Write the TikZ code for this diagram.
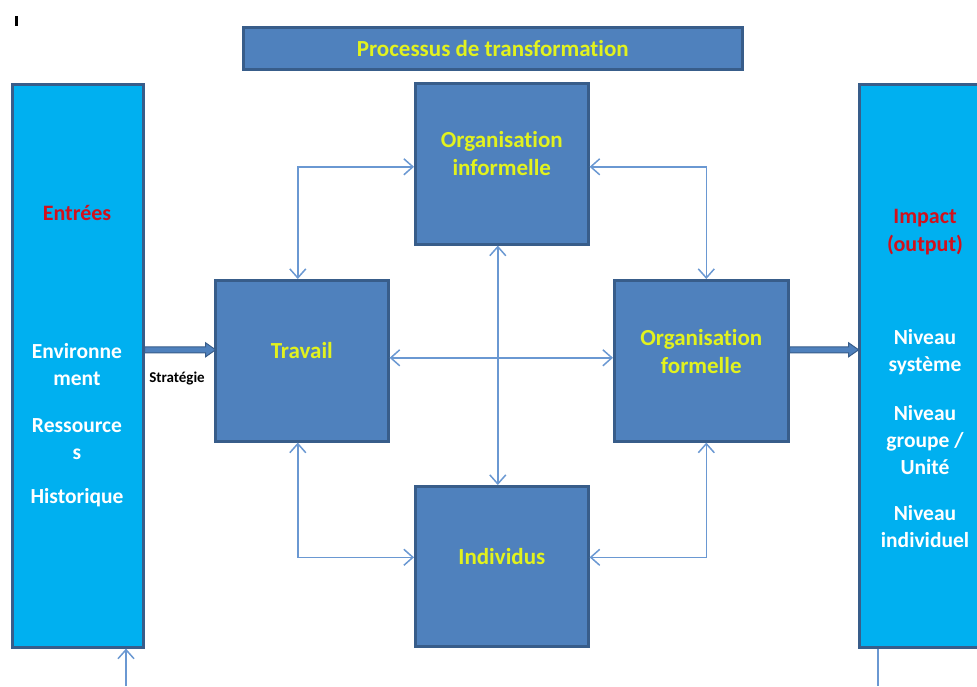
\documentclass[tikz,border=0pt]{standalone}
\usepackage{fontspec}
\setmainfont{Carlito}[Ligatures={CommonOff}]
\usetikzlibrary{arrows.meta}
\definecolor{sidefill}{HTML}{00B0F0}
\definecolor{boxfill}{HTML}{4F81BD}
\definecolor{boxline}{HTML}{385D8A}
\definecolor{linkblue}{HTML}{6A98D2}
\definecolor{labelyellow}{HTML}{E2F21E}
\definecolor{labelred}{HTML}{D2101C}
\tikzset{
  block/.style={draw=boxline, line width=2.6pt, fill=boxfill, inner sep=0pt, anchor=north west},
  sidebar/.style={draw=boxline, line width=2.6pt, fill=sidefill, inner sep=0pt, anchor=north west},
  boxtext/.style={text=labelyellow, font=\bfseries\fontsize{23}{28}\selectfont, align=center},
  sidetext/.style={text=white, font=\bfseries\fontsize{21.5}{27}\selectfont, align=center},
  headtext/.style={text=labelred, font=\bfseries\fontsize{22}{28}\selectfont, align=center},
  link/.style={draw=linkblue, line width=1.5pt, {Straight Barb[length=9pt,width=16pt]}-{Straight Barb[length=9pt,width=16pt]}},
  thinline/.style={draw=linkblue, line width=1.5pt},
  bigarrow/.style={draw=boxline, line width=1pt, fill=boxfill},
}
\begin{document}
\begin{tikzpicture}[x=1pt, y=-1pt]
  \useasboundingbox (0,0) rectangle (977,686);
  \clip (0,0) rectangle (977,686);

  % stray text cursor mark
  \fill[black] (15,16) rectangle (18,26);

  % title bar
  \node[block, minimum width=499pt, minimum height=42pt] (title) at (242,26) {};
  \node[boxtext] at (title.center) {Processus de transformation};

  % input and output columns
  \node[sidebar, minimum width=131pt, minimum height=563pt] (inputs) at (11,83) {};
  \node[sidebar, minimum width=160pt, minimum height=563pt] (outputs) at (858,83) {};

  \node[headtext] (inhead) at (77,213) {Entrées};
  \node[sidetext] (env) at (77,365) {Environne\\ment};
  \node[sidetext] (res) at (77,439) {Ressource\\s};
  \node[sidetext] (hist) at (77,498) {Historique};

  \node[headtext] (outhead) at (925,232) {Impact\\(output)};
  \node[sidetext] (sys) at (925,352) {Niveau\\système};
  \node[sidetext] (grp) at (925,440) {Niveau\\groupe /\\Unité};
  \node[sidetext] (ind) at (925,527) {Niveau\\individuel};

  % central components
  \node[block, minimum width=173pt, minimum height=161pt] (orginf) at (414,82) {};
  \node[boxtext] at ([yshift=10pt]orginf.center) {Organisation\\informelle};
  \node[block, minimum width=173pt, minimum height=161pt] (travail) at (214,279) {};
  \node[boxtext] at ([yshift=10pt]travail.center) {Travail};
  \node[block, minimum width=174pt, minimum height=161pt] (orgform) at (613,279) {};
  \node[boxtext] at ([yshift=9pt]orgform.center) {Organisation\\formelle};
  \node[block, minimum width=173pt, minimum height=160pt] (indiv) at (414,485) {};
  \node[boxtext] at ([yshift=10pt]indiv.center) {Individus};

  % links between components
  \draw[link] ([xshift=-4pt]travail.north) |- ([yshift=-3pt]orginf.west);
  \draw[link] ([yshift=-3pt]orginf.east) -| ([xshift=5pt]orgform.north);
  \draw[link] ([xshift=-4pt]travail.south) |- ([yshift=9pt]indiv.west);
  \draw[link] ([xshift=5pt]orgform.south) |- ([yshift=9pt]indiv.east);
  \draw[link] ([xshift=-4pt]orginf.south) -- ([xshift=-4pt]indiv.north);
  \draw[link] ([yshift=3pt]travail.east) -- ([yshift=3pt]orgform.west);

  % broad arrows into and out of the transformation
  \coordinate (a1) at ([yshift=16pt]inputs.east);
  \coordinate (a2) at ([yshift=11pt]orgform.east);
  \draw[bigarrow] ([yshift=3pt]a1) -- ++(61,0) -- ++(0,-4) -- ++(10,7) -- ++(-10,7) -- ++(0,-4) -- ++(-61,0) -- cycle;
  \draw[bigarrow] ([yshift=3pt]a2) -- ++(59,0) -- ++(0,-4) -- ++(10,7) -- ++(-10,7) -- ++(0,-4) -- ++(-59,0) -- cycle;
  \node[font=\bfseries\fontsize{15}{17}\selectfont, text=black] (strat) at (177,379) {Stratégie};

  % feeds at the bottom
  \coordinate (feedin) at (126,686);
  \coordinate (feedout) at (878,686);
  \draw[thinline, -{Straight Barb[length=9pt,width=16pt]}] (feedin) -- (feedin |- inputs.south);
  \draw[thinline] (outputs.south -| feedout) -- (feedout);
\end{tikzpicture}
\end{document}
